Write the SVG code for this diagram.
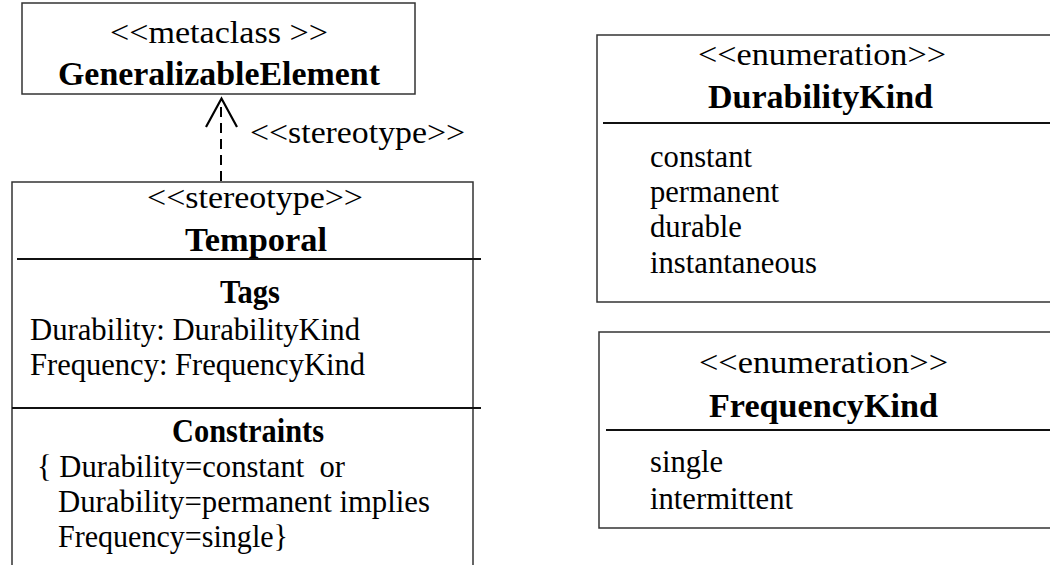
<svg xmlns="http://www.w3.org/2000/svg" width="1050" height="565" viewBox="0 0 1050 565">
<style>
text{font-family:"Liberation Serif","Times New Roman",serif;fill:#000}
.r{font-size:31px}
.b{font-size:33.5px;font-weight:bold}
.box{fill:#fff;stroke:#333;stroke-width:1.5}
.sep{stroke:#111;stroke-width:2}
.dash{stroke:#000;stroke-width:2;stroke-dasharray:10 6;fill:none}
.head{stroke:#000;stroke-width:2.2;fill:none}
</style>
<rect width="1050" height="565" fill="#fff"/>
<g id="connectors">
<line class="dash" x1="221" y1="181" x2="221" y2="100"/>
<polyline class="head" points="206,127 221.5,98.5 237,127"/>
<text class="r" x="250" y="143" textLength="215" lengthAdjust="spacingAndGlyphs">&lt;&lt;stereotype&gt;&gt;</text>
</g>
<g id="GeneralizableElement">
<rect class="box" x="22" y="3" width="393" height="91"/>
<text class="r" x="110" y="43" textLength="218" lengthAdjust="spacingAndGlyphs">&lt;&lt;metaclass &gt;&gt;</text>
<text class="b" x="58" y="85" textLength="322" lengthAdjust="spacingAndGlyphs">GeneralizableElement</text>
</g>
<g id="Temporal">
<path class="box" d="M12,570 V182 H473 V570"/>
<line class="sep" x1="17" y1="259" x2="481" y2="259"/>
<line class="sep" x1="12" y1="408" x2="481" y2="408"/>
<text class="r" x="147" y="208" textLength="216" lengthAdjust="spacingAndGlyphs">&lt;&lt;stereotype&gt;&gt;</text>
<text class="b" x="185" y="251" textLength="142" lengthAdjust="spacingAndGlyphs">Temporal</text>
<text class="b" x="220" y="303" textLength="60" lengthAdjust="spacingAndGlyphs">Tags</text>
<text class="r" x="30" y="340" textLength="330" lengthAdjust="spacingAndGlyphs">Durability: DurabilityKind</text>
<text class="r" x="30" y="375" textLength="335" lengthAdjust="spacingAndGlyphs">Frequency: FrequencyKind</text>
<text class="b" x="172" y="442" textLength="152" lengthAdjust="spacingAndGlyphs">Constraints</text>
<text class="r" x="37" y="477" textLength="308" lengthAdjust="spacingAndGlyphs" xml:space="preserve">{ Durability=constant  or</text>
<text class="r" x="58" y="512" textLength="372" lengthAdjust="spacingAndGlyphs">Durability=permanent implies</text>
<text class="r" x="58" y="547" textLength="230" lengthAdjust="spacingAndGlyphs">Frequency=single}</text>
</g>
<g id="DurabilityKind">
<path class="box" d="M1060,35 H597 V302 H1060"/>
<line class="sep" x1="603" y1="123" x2="1050" y2="123"/>
<text class="r" x="698" y="65" textLength="248" lengthAdjust="spacingAndGlyphs">&lt;&lt;enumeration&gt;&gt;</text>
<text class="b" x="708" y="108" textLength="225" lengthAdjust="spacingAndGlyphs">DurabilityKind</text>
<text class="r" x="650" y="167" textLength="102" lengthAdjust="spacingAndGlyphs">constant</text>
<text class="r" x="650" y="202" textLength="129" lengthAdjust="spacingAndGlyphs">permanent</text>
<text class="r" x="650" y="237" textLength="92" lengthAdjust="spacingAndGlyphs">durable</text>
<text class="r" x="650" y="273" textLength="167" lengthAdjust="spacingAndGlyphs">instantaneous</text>
</g>
<g id="FrequencyKind">
<path class="box" d="M1060,332 H599 V528 H1060"/>
<line class="sep" x1="606" y1="430" x2="1050" y2="430"/>
<text class="r" x="699" y="373" textLength="249" lengthAdjust="spacingAndGlyphs">&lt;&lt;enumeration&gt;&gt;</text>
<text class="b" x="709" y="417" textLength="229" lengthAdjust="spacingAndGlyphs">FrequencyKind</text>
<text class="r" x="650" y="472" textLength="73" lengthAdjust="spacingAndGlyphs">single</text>
<text class="r" x="650" y="509" textLength="143" lengthAdjust="spacingAndGlyphs">intermittent</text>
</g>
</svg>
